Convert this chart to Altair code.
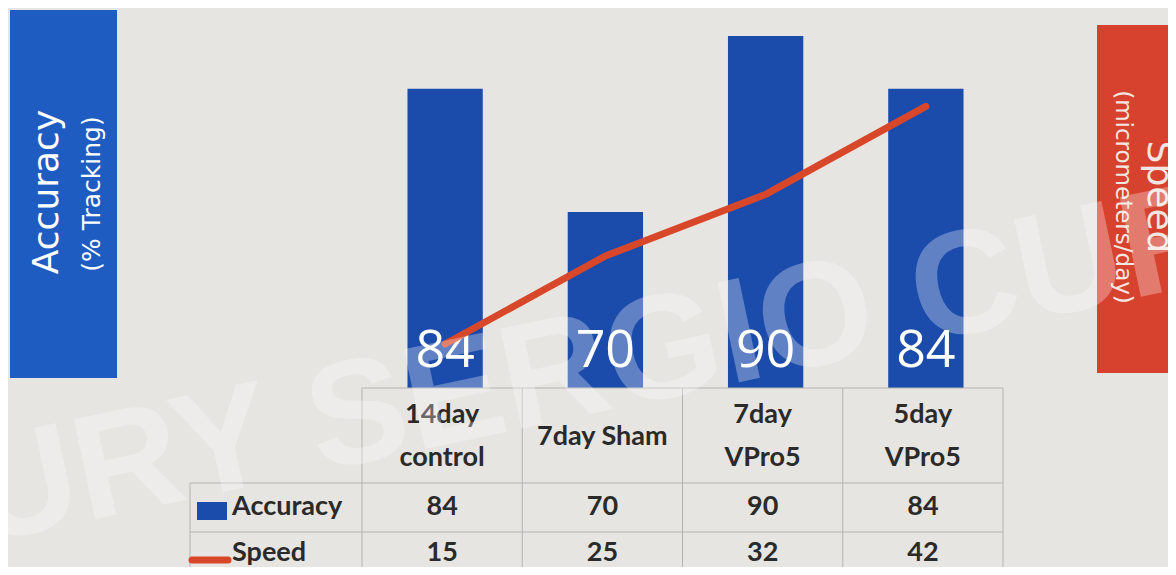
import altair as alt
import pandas as pd

# ---------------- data ----------------
categories = ["14day control", "7day Sham", "7day VPro5", "5day VPro5"]
header_line1 = ["14day", "", "7day", "5day"]
header_line2 = ["control", "", "VPro5", "VPro5"]
header_single = ["", "7day Sham", "", ""]
accuracy = [84, 70, 90, 84]
speed = [15, 25, 32, 42]
order_idx = [0, 1, 2, 3]
row_labels = ["Accuracy", "Speed"]
left_title = ["Accuracy", "(% Tracking)"]
right_title = ["Speed", "(micrometers/day)"]
watermark = ["CURY SERGIO CUR"]

df = pd.DataFrame({"cat": categories, "h1": header_line1, "h2": header_line2,
                   "hs": header_single, "acc": accuracy, "speed": speed,
                   "idx": order_idx})
one = pd.DataFrame({"k": [0]})

# ---------------- style ----------------
W, H = 641, 352
BG = "#e6e5e1"
BAR_BLUE = "#1b4cab"
BOX_BLUE = "#1f5cc2"
BOX_RED = "#d6422e"
LINE_RED = "#d9472a"
TXT = "#2a2a2a"
GRID = "#b3b3b1"
TFONT = "Lato"

xs = alt.Scale(domain=categories, paddingInner=0, paddingOuter=0)
X = alt.X("cat:N", scale=xs, axis=None, sort=categories)

base = alt.Chart(df)

bars = base.mark_bar(color=BAR_BLUE, width=alt.RelativeBandSize(0.47), xOffset=3).encode(
    x=X,
    y=alt.Y("acc:Q", scale=alt.Scale(domain=[50, 90], zero=False), axis=None),
    y2=alt.datum(50),
)

bar_labels = base.mark_text(color="white", font="Open Sans", fontSize=52,
                            baseline="alphabetic", xOffset=3).encode(
    x=X, y=alt.value(331), text="acc:Q")

line = base.mark_line(color=LINE_RED, strokeWidth=7, strokeCap="round",
                      strokeJoin="round", xOffset=3).encode(
    x=X,
    y=alt.Y("speed:Q", scale=alt.Scale(domain=[10, 50], zero=False), axis=None),
    order=alt.Order("idx:Q"),
)

# ---------------- table ----------------
vlines = base.mark_rule(color=GRID, strokeWidth=1).encode(
    x=alt.X("cat:N", scale=xs, axis=None, bandPosition=0),
    y=alt.value(H), y2=alt.value(H + 240))
vline_last = base.transform_filter(alt.datum.idx == 3).mark_rule(color=GRID, strokeWidth=1).encode(
    x=alt.X("cat:N", scale=xs, axis=None, bandPosition=1),
    y=alt.value(H), y2=alt.value(H + 240))
o = alt.Chart(one)
top_line = o.mark_rule(color=GRID, strokeWidth=1).encode(
    x=alt.value(0), x2=alt.value(W), y=alt.value(H))
hl1 = o.mark_rule(color=GRID, strokeWidth=1).encode(
    x=alt.value(-172), x2=alt.value(W), y=alt.value(447))
hl2 = o.mark_rule(color=GRID, strokeWidth=1).encode(
    x=alt.value(-172), x2=alt.value(W), y=alt.value(496))
vleft = o.mark_rule(color=GRID, strokeWidth=1).encode(
    x=alt.value(-172), y=alt.value(447), y2=alt.value(H + 240))

tstyle = dict(font=TFONT, fontWeight="bold", fontSize=27, color=TXT, baseline="middle")
head1 = base.mark_text(**tstyle).encode(x=X, y=alt.value(379), text="h1:N")
head2 = base.mark_text(**tstyle).encode(x=X, y=alt.value(422), text="h2:N")
heads = base.mark_text(**tstyle).encode(x=X, y=alt.value(401), text="hs:N")
acc_vals = base.mark_text(**tstyle).encode(x=X, y=alt.value(471), text="acc:Q")
spd_vals = base.mark_text(**tstyle).encode(x=X, y=alt.value(517), text="speed:Q")

acc_label = alt.Chart(pd.DataFrame({"label": [row_labels[0]]})).mark_text(align="left", **tstyle).encode(
    x=alt.value(-130), y=alt.value(471), text="label:N")
spd_label = alt.Chart(pd.DataFrame({"label": [row_labels[1]]})).mark_text(align="left", **tstyle).encode(
    x=alt.value(-130), y=alt.value(517), text="label:N")
acc_sym = o.mark_rect(color=BAR_BLUE).encode(
    x=alt.value(-165), x2=alt.value(-135), y=alt.value(466), y2=alt.value(484))
spd_sym = o.mark_rule(color=LINE_RED, strokeWidth=7, strokeCap="round").encode(
    x=alt.value(-170), x2=alt.value(-134), y=alt.value(524))

# ---------------- side title boxes ----------------
left_box = o.mark_rect(color=BOX_BLUE).encode(
    x=alt.value(-352), x2=alt.value(-245), y=alt.value(-26), y2=alt.value(342))
right_box = o.mark_rect(color=BOX_RED).encode(
    x=alt.value(735), x2=alt.value(830), y=alt.value(-11), y2=alt.value(337))

lt1 = alt.Chart(pd.DataFrame({"t": [left_title[0]]})).mark_text(
    font="DejaVu Sans", fontSize=36, color="white", angle=270, baseline="middle").encode(
    x=alt.value(-315), y=alt.value(156), text="t:N")
lt2 = alt.Chart(pd.DataFrame({"t": [left_title[1]]})).mark_text(
    font="DejaVu Sans", fontSize=25, color="white", angle=270, baseline="middle").encode(
    x=alt.value(-270), y=alt.value(158), text="t:N")
rt1 = alt.Chart(pd.DataFrame({"t": [right_title[0]]})).mark_text(
    font="DejaVu Sans", fontSize=36, color="#f3e6e2", angle=90, baseline="middle").encode(
    x=alt.value(797), y=alt.value(161), text="t:N")
rt2 = alt.Chart(pd.DataFrame({"t": [right_title[1]]})).mark_text(
    font="DejaVu Sans", fontSize=23, color="#f3e6e2", angle=90, baseline="middle").encode(
    x=alt.value(761), y=alt.value(161), text="t:N")

wm = alt.Chart(pd.DataFrame({"t": watermark})).mark_text(
    font="Liberation Sans", fontWeight="bold", fontSize=148, color="white",
    opacity=0.3, angle=348, baseline="middle").encode(
    x=alt.value(185), y=alt.value(342), text="t:N")

chart = alt.layer(
    left_box, right_box, lt1, lt2, rt1, rt2,
    bars, bar_labels, line,
    vlines, vline_last, top_line, hl1, hl2, vleft,
    head1, head2, heads, acc_vals, spd_vals, acc_label, spd_label, acc_sym, spd_sym,
    wm,
).resolve_scale(y="independent").properties(
    width=W, height=H,
    autosize=alt.AutoSizeParams(type="none"),
    padding={"left": 354, "top": 28, "right": 165, "bottom": 179},
).configure(background=BG).configure_view(stroke=None)

chart.save("out.html", embed_options={"renderer": "svg", "actions": False})
